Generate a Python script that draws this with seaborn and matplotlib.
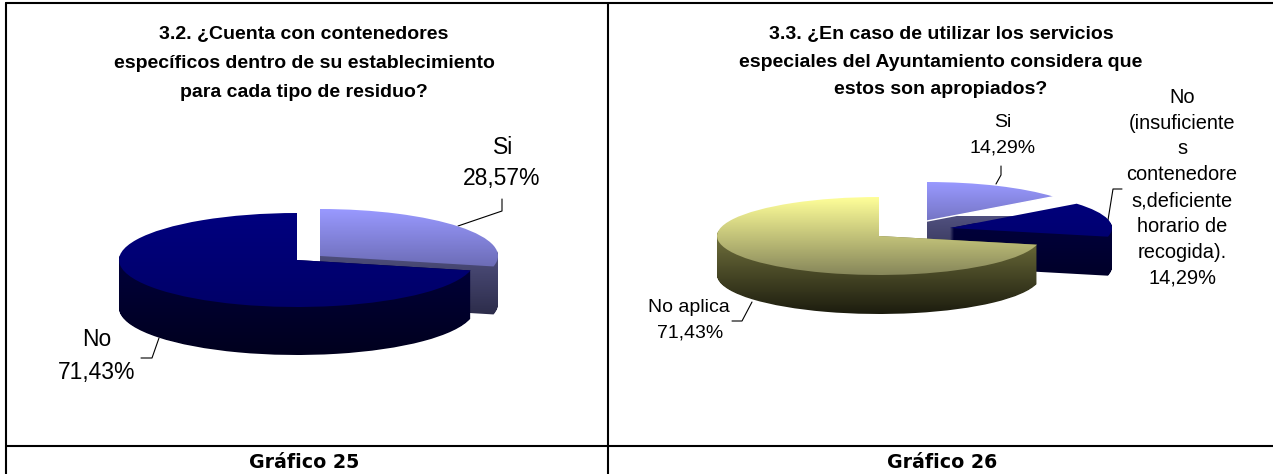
import matplotlib
matplotlib.use("Agg")
import matplotlib.pyplot as plt
import numpy as np
import seaborn as sns
from matplotlib.patches import Wedge
from matplotlib.path import Path

# Chart data
labels_25 = ["Si", "No"]
values_25 = [28.57, 71.43]
labels_26 = ["Si", "No\n(insuficiente\ns\ncontenedore\ns,deficiente\nhorario de\nrecogida).", "No aplica"]
values_26 = [14.29, 14.29, 71.43]
title_25 = "3.2. ¿Cuenta con contenedores\nespecíficos dentro de su establecimiento\npara cada tipo de residuo?"
title_26 = "3.3. ¿En caso de utilizar los servicios\nespeciales del Ayuntamiento considera que\nestos son apropiados?"
captions = ["Gráfico 25", "Gráfico 26"]

W, H = 1273, 474

# top colours and side colours of each slice kind (start, end of the vertical gradient)
LILAC = (("#9999ff", "#505088"), ("#50507f", "#18182c"))
NAVY = (("#00007f", "#000068"), ("#00003c", "#00001e"))
YELLOW = (("#ffff99", "#86865a"), ("#75753f", "#1c1c0e"))

sns.set_theme(style="white")
plt.rcParams["font.family"] = ["Liberation Sans", "DejaVu Sans"]

fig = plt.figure(figsize=(W / 100, H / 100), dpi=100, facecolor="white")

# pixel axes for the frame, titles and labels
base = fig.add_axes([0, 0, 1, 1])
base.set_xlim(0, W)
base.set_ylim(H, 0)
base.axis("off")


def draw_pie(values, cx, cy, rx, ry, depth, offsets, styles, white_cut=()):
    ax = fig.add_axes([0, 0, 1, 1])
    ax.patch.set_visible(False)
    wedges, _ = ax.pie(values, startangle=90, counterclock=False, radius=1,
                       colors=["none"] * len(values), wedgeprops={"linewidth": 0})

    def grad(c1, c2, y_top, y_bot, clip, z):
        cmap = sns.blend_palette([c1, c2], as_cmap=True)
        im = ax.imshow(np.linspace(0, 1, 256).reshape(-1, 1), cmap=cmap, aspect="auto",
                       extent=(-4, 4, (cy - y_bot) / ry, (cy - y_top) / ry), zorder=z)
        im.set_clip_path(clip, ax.transData)

    z = 2
    for i, w in enumerate(wedges):
        ox, oy = offsets[i][0] / rx, -offsets[i][1] / ry
        t1, t2 = w.theta1, w.theta2
        top_y = cy + offsets[i][1] - ry
        # side: the slice swept downward
        layers = [Wedge((ox, oy - d / ry), 1, t1, t2).get_path() for d in np.arange(0, depth + 1, 1.0)]
        side = Path.make_compound_path(*layers)
        grad(styles[i][1][0], styles[i][1][1], cy + offsets[i][1] - 5, cy + offsets[i][1] + ry + depth, side, z)
        # top face
        grad(styles[i][0][0], styles[i][0][1], top_y, cy + offsets[i][1] + ry, Wedge((ox, oy), 1, t1, t2).get_path(), z + 1)
        if i in white_cut:
            a = np.radians(t1)
            ax.plot([ox, ox + np.cos(a)], [oy, oy + np.sin(a)], color="white", lw=1, zorder=z + 1)
        z += 2

    ax.set_aspect("auto")
    ax.set_xlim(-cx / rx, (W - cx) / rx)
    ax.set_ylim(-(H - cy) / ry, cy / ry)
    ax.axis("off")


draw_pie(values_25, 297, 260, 178, 47, 48, [(23, -4), (0, 0)], [LILAC, NAVY])
draw_pie(values_26, 879, 236, 162, 39, 39, [(48, -15), (71, -8), (0, 0)], [LILAC, NAVY, YELLOW], white_cut=[0])


def pct(v):
    return f"{v:.2f}".replace(".", ",") + "%"


def put(x, y, s, size, **kw):
    base.text(x, y, s, fontsize=size, ha="center", va="center", color="black", **kw)


# titles
for t, x, rows in [(title_25, 304, [34, 63, 92]), (title_26, 941, [34, 62, 89])]:
    for line, y in zip(t.split("\n"), rows):
        put(x, y, line, 14, fontweight="bold")

# slice labels, chart 25
put(503, 147, labels_25[0], 16.5)
put(502, 179, pct(values_25[0]), 16.5)
put(97, 340, labels_25[1], 16.5)
put(97, 372, pct(values_25[1]), 16.5)

# slice labels, chart 26
put(1003, 122, labels_26[0], 14)
put(1003, 148, pct(values_26[0]), 14)
for line, y in zip(labels_26[1].split("\n"), [97, 123, 149, 175, 201, 226, 252]):
    put(1182, y, line, 14.4)
put(1182, 278, pct(values_26[1]), 14.4)
put(689, 307, labels_26[2], 14)
put(690, 333, pct(values_26[2]), 14)

# leader lines
leaders = [
    ([458, 502, 502], [226, 211, 199]),
    ([159, 152, 141], [338, 358, 358]),
    ([996, 1001, 1001], [184, 175, 166]),
    ([1108, 1113, 1122], [220, 189, 189]),
    ([752, 742, 732], [302, 321, 321]),
]
for xs, ys in leaders:
    base.plot(xs, ys, color="black", lw=0.8, zorder=10)

# table frame: no right or bottom rule in the picture
base.plot([6, 6], [3, H], color="black", lw=1.5)
base.plot([6, W], [3, 3], color="black", lw=1.5)
base.plot([6, W], [446, 446], color="black", lw=1.5)
base.plot([608, 608], [3, H], color="black", lw=1.5)
for cap, x in zip(captions, [304, 942]):
    put(x, 463, cap, 13.7, fontweight="bold", family=["DejaVu Sans"])

fig.savefig("out.png", dpi=100, facecolor="white")
